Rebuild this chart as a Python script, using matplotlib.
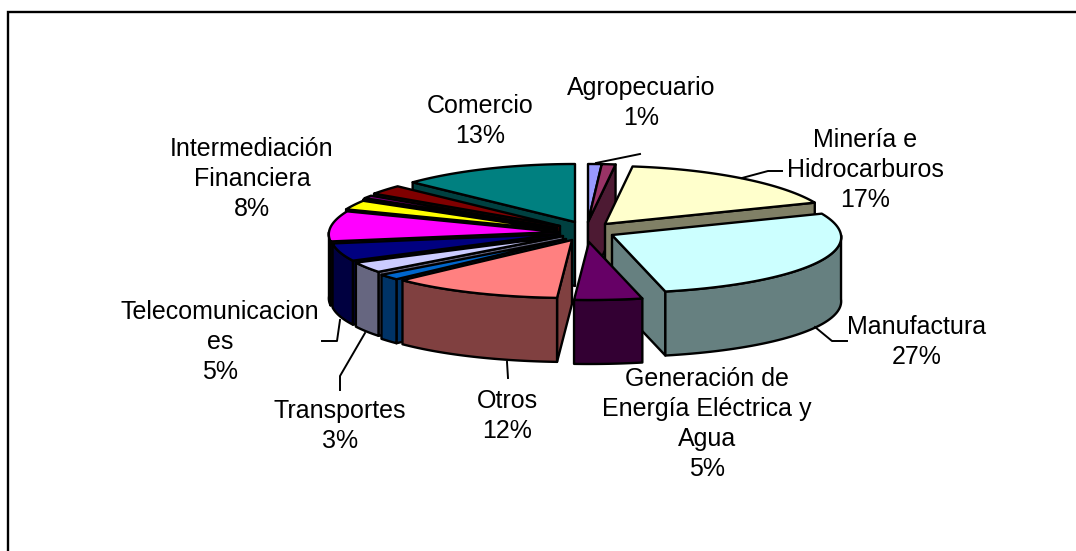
import numpy as np
import matplotlib
matplotlib.use("Agg")
import matplotlib.pyplot as plt
from matplotlib.patches import Polygon

# porciones en sentido horario desde arriba (colores de Excel)
sectores = ["Agropecuario", "Pesca", "Minería e Hidrocarburos", "Manufactura",
            "Generación de Energía Eléctrica y Agua", "Otros", "Construcción",
            "Transportes", "Telecomunicaciones", "Intermediación Financiera",
            "Restaurantes", "Turismo", "Salud", "Educación", "Comercio"]
valores = [1.0, 1.0, 17.0, 27.4, 4.6, 11.8, 1.6, 3.0, 5.0, 8.4, 2.6, 0.2, 0.8, 2.6, 13.0]
colores = ["#9999FF", "#993366", "#FFFFCC", "#CCFFFF", "#660066", "#FF8080", "#0066CC",
           "#CCCCFF", "#000080", "#FF00FF", "#FFFF00", "#00FFFF", "#800080", "#800000", "#008080"]

# vertice de cada porcion ya separada (pixeles)
vertices = [(588, 222), (588, 222), (605, 224), (612, 235), (589, 242), (572, 240), (566, 239),
            (563, 236), (560, 234), (558, 232), (557, 230), (557, 229), (557, 228), (560, 226),
            (575, 222)]
RX, RY, ALTO = 229, 58, 64

etiquetas = ["Comercio\n13%", "Agropecuario\n1%", "Minería e\nHidrocarburos\n17%",
             "Intermediación\nFinanciera\n8%", "Manufactura\n27%", "Telecomunicacion\nes\n5%",
             "Transportes\n3%", "Otros\n12%", "Generación de\nEnergía Eléctrica y\nAgua\n5%"]
pos_etiquetas = [(480, 121), (641, 103), (865, 170), (252, 179), (917, 342), (220, 342),
                 (340, 426), (507, 416), (707, 424)]
guias = [[(596, 163), (640, 154)],
         [(742, 178), (768, 171), (782, 171)],
         [(815, 327), (832, 341), (847, 341)],
         [(507, 362), (508, 378)],
         [(340, 320), (337, 341), (322, 341)],
         [(365, 333), (340, 376), (340, 390)]]


def borde(vx, vy, ang):
    # punto del borde con un poco de perspectiva
    ax_r = RX * (1 - 0.04 * np.sin(ang))
    return vx + ax_r * np.cos(ang), vy - RY * np.sin(ang)


def oscuro(c):
    r, g, b = matplotlib.colors.to_rgb(c)
    return (r * 0.5, g * 0.5, b * 0.5)


plt.rcParams['font.family'] = ['Liberation Sans', 'DejaVu Sans']
fig = plt.figure(figsize=(10.76, 5.51), dpi=100)
ax = fig.add_axes([0, 0, 1, 1])
ax.set_xlim(0, 1076)
ax.set_ylim(551, 0)
ax.axis('off')
# marco: solo izquierda y arriba, lo demas queda cortado
ax.plot([8, 8, 1076], [551, 11.5, 11.5], color='black', lw=1.7, zorder=1, solid_joinstyle='miter')

acum = np.cumsum([0] + valores) / np.sum(valores) * 2 * np.pi
medios = (acum[:-1] + acum[1:]) / 2
# de atras hacia adelante
orden = sorted(range(len(valores)), key=lambda i: -np.cos(medios[i]))
z = 2
for i in orden:
    vx, vy = vertices[i]
    a1 = np.pi / 2 - acum[i]
    a2 = np.pi / 2 - acum[i + 1]
    angs = np.linspace(a1, a2, 60)
    px, py = borde(vx, vy, angs)
    lado = oscuro(colores[i])
    # caras radiales, solo las que se ven
    for k, visible in ((0, np.cos(a1) < 0), (-1, np.cos(a2) > 0)):
        if visible:
            cara = [(vx, vy), (px[k], py[k]), (px[k], py[k] + ALTO), (vx, vy + ALTO)]
            ax.add_patch(Polygon(cara, fc=lado, ec='black', lw=1.7, joinstyle='round', zorder=z))
            z += 1
    # cara exterior, solo la parte que mira al frente
    frente = np.sin(angs) < 0
    if frente.any():
        fx, fy = px[frente], py[frente]
        cara = list(zip(fx, fy)) + list(zip(fx[::-1], fy[::-1] + ALTO))
        ax.add_patch(Polygon(cara, fc=lado, ec='black', lw=1.7, joinstyle='round', zorder=z))
        z += 1
    # tapa
    ax.add_patch(Polygon([(vx, vy)] + list(zip(px, py)), fc=colores[i], ec='black', lw=1.7,
                         joinstyle='round', zorder=z))
    z += 1

for g in guias:
    xs, ys = zip(*g)
    ax.plot(xs, ys, color='black', lw=1.4, zorder=z)
for txt, (x, y) in zip(etiquetas, pos_etiquetas):
    ax.text(x, y, txt, ha='center', va='center', fontsize=18, linespacing=1.33, color='black', zorder=z + 1)

fig.savefig("out.png", dpi=100)
